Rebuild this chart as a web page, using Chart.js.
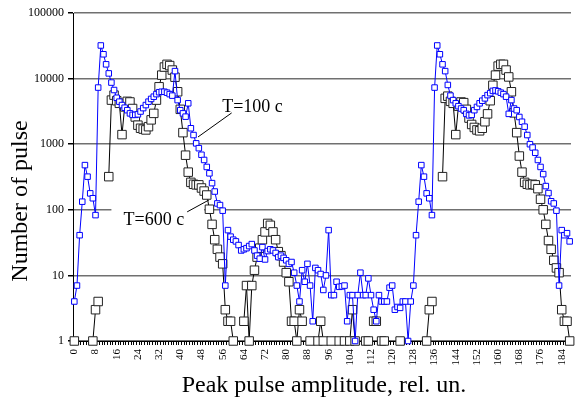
<!DOCTYPE html>
<html>
<head>
<meta charset="utf-8">
<script src="https://cdn.jsdelivr.net/npm/chart.js@4/dist/chart.umd.min.js"></script>
<style>
  body { margin: 0; background: #fff; }
  #wrap { width: 578px; height: 403px; position: relative; }
</style>
</head>
<body>
<div id="wrap"><canvas id="pulses"></canvas></div>
<script>
// peak amplitude categories 0..187 (rel. un.)
const amplitudes = Array.from({length: 188}, (_, i) => i);
const xTickLabels = [0, 8, 16, 24, 32, 40, 48, 56, 64, 72, 80, 88, 96, 104, 112, 120, 128, 136, 144, 152, 160, 168, 176, 184];
const yTickValues = [1, 10, 100, 1000, 10000, 100000];

// T=100 c (blue)
const pulsesT100 = [
  4, 7, 41, 133, 480, 320, 178, 150, 83, 7300,
  32000, 23500, 16500, 12000, 8700, 6700, 5100, 4450, 3950, 3600,
  3300, 2950, 2800, 2800, 2850, 3150, 3550, 3950, 4450, 4900,
  5300, 5800, 6200, 6300, 6300, 6100, 5800, 5500, 13000, 4700,
  3300, 2950, 2630, 4200, 1750, 1380, 1030, 870, 690, 575,
  450, 360, 255, 190, 125, 118, 97, 7, 49, 39,
  35, 33, 29, 24, 25, 26, 28, 30, 24, 20,
  18, 27, 17.5, 23.5, 25, 24, 22, 19, 20, 18.5,
  17, 15, 16, 11, 7, 4, 12, 8, 15, 7,
  2, 13, 12, 10.5, 6, 10, 49, 5, 5, 8,
  6.7, 6.8, 7, 2, 5, 5, 1, 5, 11, 5,
  5, 9, 5, 3, 2, 5, 4, 4, 4, 6.5,
  7, 3, 3.3, 3.2, 4, 4, 1, 4, 7, 41,
  133, 480, 320, 178, 150, 83, 7300, 32000, 23500, 16500,
  13000, 8000, 5500, 4700, 4200, 3800, 3500, 3300, 2900, 2750,
  2800, 3300, 3700, 4200, 4600, 5000, 5600, 6000, 6500, 6600,
  6400, 6100, 5800, 5300, 2900, 4700, 3500, 3300, 2600, 2200,
  1850, 1380, 1000, 890, 740, 575, 450, 350, 230, 180,
  135, 125, 97, 7, 49, 41, 44, 33
];

// T=600 c (black), null = no count
const pulsesT600 = [
  1, null, null, null, null, null, null, 1, 3, 4,
  null, null, null, 320, 4700, 5600, 4600, 4200, 1400, 3700,
  4500, 4400, 3500, 2600, 1950, 1750, 1700, 1650, 1850, 2350,
  2950, 4700, 7500, 11300, 15000, 16500, 15800, 13500, 10500, 6300,
  3400, 1500, 680, 375, 262, 245, 240, 240, 215, 193,
  168, 102, 60, 35, 25, 19, 15, 3, 2, 2,
  1, null, null, null, 2, 7, 1, 7, 12, 19,
  26, 35, 46, 62, 58, 46, 35, 23, 20, 16,
  11, 8, 2, 2, 1, 3, 2, null, null, 1,
  null, null, 1, 2, 1, null, null, 1, null, null,
  1, null, 1, null, 1, 3, 1, null, null, null,
  1, 1, null, 2, 2, null, 1, 1, null, null,
  null, null, null, 1, null, null, null, null, null, null,
  null, null, null, 1, 3, 4, null, null, null, 320,
  5000, 5400, 4500, 4200, 1400, 3800, 4400, 4300, 3400, 2500,
  2000, 1800, 1650, 1600, 1750, 2200, 2900, 4600, 7900, 11300,
  15500, 16500, 16500, 13500, 10600, 6300, 3000, 1500, 660, 375,
  262, 245, 240, 245, 240, 210, 145, 100, 60, 34,
  25, 17, 13, 11, 3, 2, 2, 1
];

const serif = '"Liberation Serif", "Times New Roman", serif';

// curve labels with leader lines, and the axis titles
const textPlugin = {
  id: 'textPlugin',
  beforeDatasetsDraw(chart) {
    const ctx = chart.ctx;
    const x = chart.scales.x, y = chart.scales.y;
    const px = v => x.getPixelForValue(v);
    const py = v => y.getPixelForValue(v);
    ctx.save();
    ctx.fillStyle = '#fff';
    ctx.fillRect(px(14), py(150), px(49) - px(14), py(49) - py(150));
    ctx.fillStyle = '#000';
    ctx.font = '18px ' + serif;
    ctx.textAlign = 'left';
    ctx.textBaseline = 'alphabetic';
    ctx.fillText('T=600 c', px(18.6), py(59));
    ctx.fillText('T=100 c', px(55.8), py(3100));
    ctx.strokeStyle = '#000';
    ctx.lineWidth = 1;
    ctx.beginPath();
    ctx.moveTo(px(42.6), py(93));
    ctx.lineTo(px(50.8), py(141));
    ctx.moveTo(px(59.4), py(3000));
    ctx.lineTo(px(46.7), py(1290));
    ctx.stroke();
    ctx.restore();
  },
  afterDraw(chart) {
    const ctx = chart.ctx;
    const area = chart.chartArea;
    ctx.save();
    ctx.fillStyle = '#000';
    ctx.font = '24px ' + serif;
    ctx.textAlign = 'center';
    ctx.textBaseline = 'alphabetic';
    ctx.fillText('Peak pulse amplitude, rel. un.', 324, 392);
    ctx.translate(27, 201);
    ctx.rotate(-Math.PI / 2);
    ctx.fillText('Number of pulse', 0, 0);
    ctx.restore();
  }
};

new Chart('pulses', {
  type: 'line',
  data: {
    labels: amplitudes,
    datasets: [{
      label: 'T=100 c',
      data: pulsesT100,
      borderColor: '#0000ff',
      borderWidth: 1,
      pointStyle: 'rect',
      pointRadius: 3.9,
      pointBorderColor: '#0000ff',
      pointBackgroundColor: '#fff',
      pointBorderWidth: 1,
      clip: false
    }, {
      label: 'T=600 c',
      data: pulsesT600,
      borderColor: '#000',
      borderWidth: 1,
      pointStyle: 'rect',
      pointRadius: 6,
      pointBorderColor: '#222',
      pointBackgroundColor: '#fff',
      pointBorderWidth: 1,
      clip: false
    }]
  },
  options: {
    animation: false,
    responsive: true,
    maintainAspectRatio: false,
    devicePixelRatio: 1,
    spanGaps: false,
    layout: {padding: {top: 13, left: 0, right: 0, bottom: 0}},
    elements: {line: {tension: 0}},
    plugins: {legend: {display: false}, tooltip: {enabled: false}},
    scales: {
      x: {
        type: 'category',
        offset: true,
        afterFit: s => { s.height = 62; s.paddingLeft = 0; s.paddingRight = 0; },
        border: {display: true, color: '#000', width: 1},
        grid: {display: true, drawOnChartArea: false, offset: true, color: '#000', tickLength: 4},
        ticks: {
          autoSkip: false,
          minRotation: 90,
          maxRotation: 90,
          padding: 4,
          color: '#000',
          font: {family: serif, size: 11},
          callback: (v, i) => xTickLabels.includes(amplitudes[i]) ? String(amplitudes[i]) : ''
        }
      },
      y: {
        type: 'logarithmic',
        min: 1,
        max: 100000,
        afterFit: s => { s.width = 73; },
        afterBuildTicks: s => { s.ticks = yTickValues.map(v => ({value: v})); },
        border: {display: true, color: '#000', width: 1},
        grid: {color: '#707070', lineWidth: 1.5, tickColor: '#000', tickLength: 5},
        ticks: {
          padding: 4,
          color: '#000',
          font: {family: serif, size: 12},
          callback: v => String(v)
        }
      }
    }
  },
  plugins: [textPlugin]
});
</script>
</body>
</html>
